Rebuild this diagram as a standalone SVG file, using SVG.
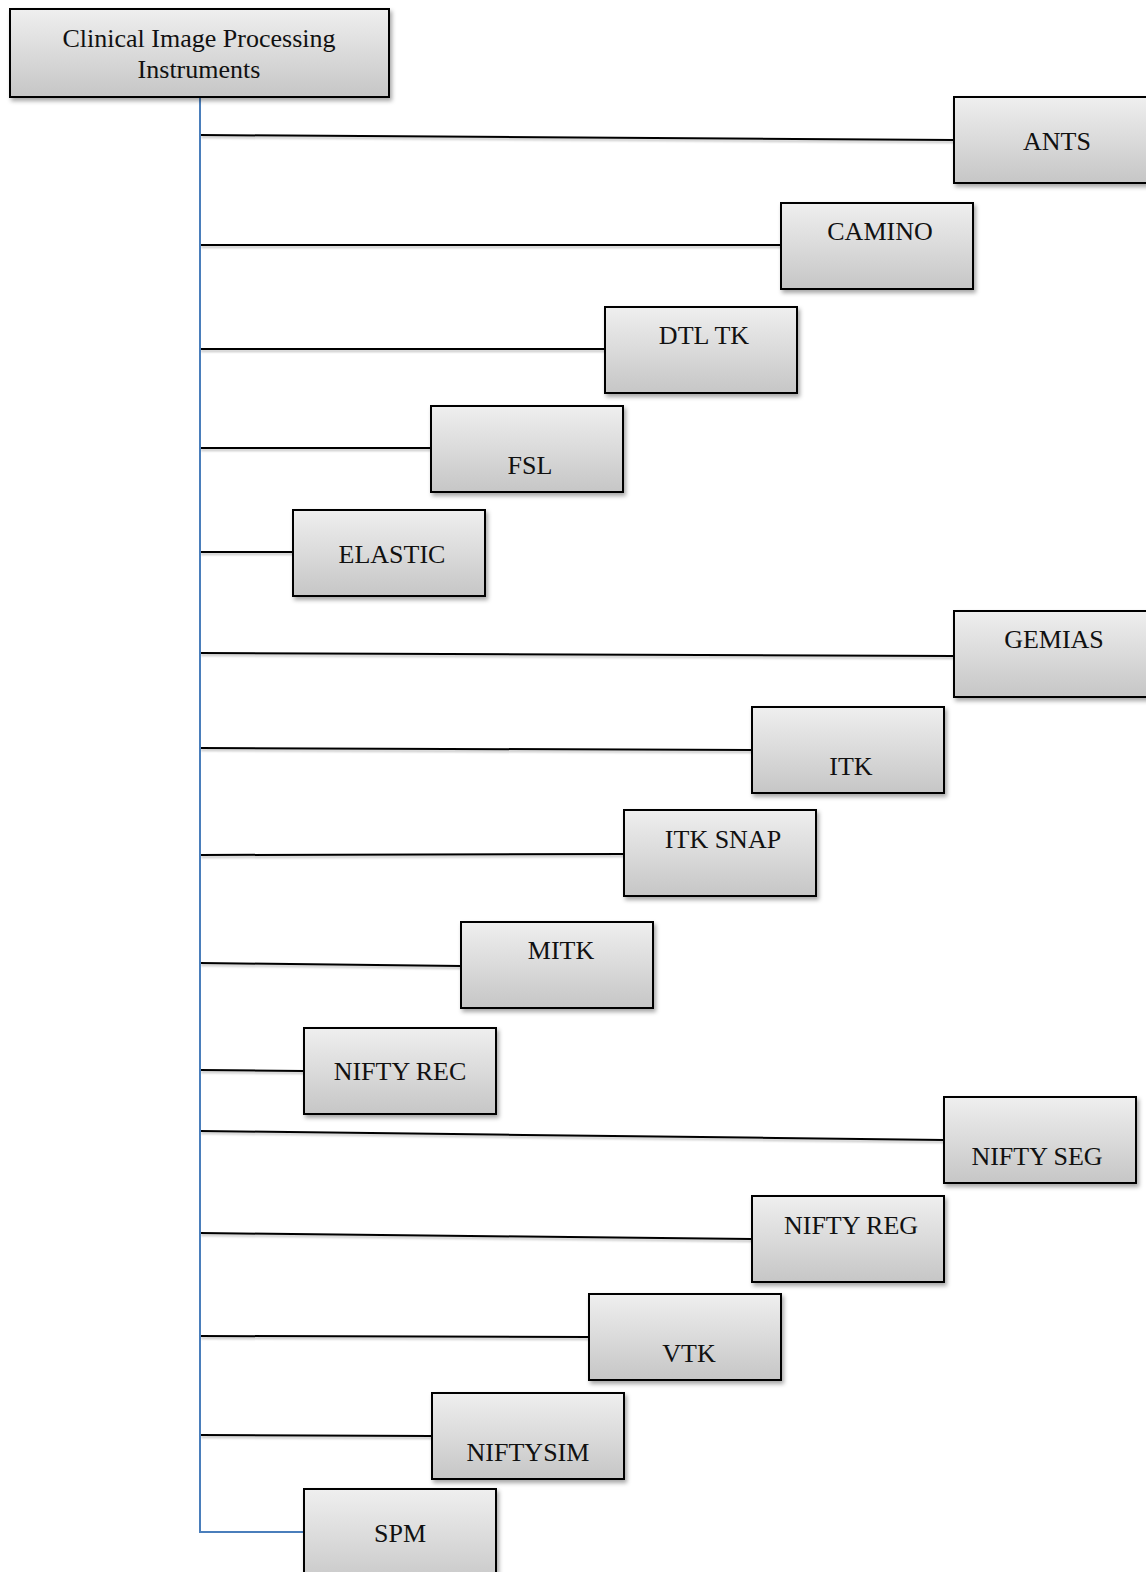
<svg xmlns="http://www.w3.org/2000/svg" width="1146" height="1572" viewBox="0 0 1146 1572">
<defs>
<linearGradient id="g" x1="0" y1="0" x2="0" y2="1">
<stop offset="0" stop-color="#efefef"/>
<stop offset="1" stop-color="#c6c6c6"/>
</linearGradient>
<filter id="sh" x="-10%" y="-10%" width="130%" height="140%">
<feDropShadow dx="2" dy="3" stdDeviation="2" flood-color="#000" flood-opacity="0.35"/>
</filter>
<filter id="lsh" filterUnits="userSpaceOnUse" x="0" y="0" width="1146" height="1572">
<feDropShadow dx="1" dy="2" stdDeviation="1.2" flood-color="#000" flood-opacity="0.25"/>
</filter>
</defs>
<style>
.box{fill:url(#g);stroke:#000;stroke-width:2;filter:url(#sh)}
.t{font-family:"Liberation Serif","Times New Roman",serif;font-size:26px;fill:#111;text-anchor:middle}
.c{stroke:#000;stroke-width:2;fill:none;filter:url(#lsh)}
.b{stroke:#4a7ebb;stroke-width:2;fill:none}
</style>
<rect width="1146" height="1572" fill="#fff"/>
<g id="connectors">
<line class="c" x1="200" y1="135" x2="954" y2="140"/>
<line class="c" x1="200" y1="245" x2="781" y2="245"/>
<line class="c" x1="200" y1="349" x2="605" y2="349"/>
<line class="c" x1="200" y1="448" x2="431" y2="448"/>
<line class="c" x1="200" y1="552" x2="293" y2="552"/>
<line class="c" x1="200" y1="653" x2="954" y2="656"/>
<line class="c" x1="200" y1="748" x2="752" y2="750"/>
<line class="c" x1="200" y1="855" x2="624" y2="854"/>
<line class="c" x1="200" y1="963" x2="461" y2="966"/>
<line class="c" x1="200" y1="1070" x2="304" y2="1071"/>
<line class="c" x1="200" y1="1131" x2="944" y2="1140"/>
<line class="c" x1="200" y1="1233" x2="752" y2="1239"/>
<line class="c" x1="200" y1="1336" x2="589" y2="1337"/>
<line class="c" x1="200" y1="1435" x2="432" y2="1436"/>
<polyline class="b" points="200,97 200,1532 304,1532"/>
</g>
<g id="root">
<rect class="box" x="10" y="9" width="379" height="88"/>
<text class="t" x="199" y="47">Clinical Image Processing</text>
<text class="t" x="199" y="78">Instruments</text>
</g>
<g id="ants"><rect class="box" x="954" y="97" width="200" height="86"/><text class="t" x="1057" y="150">ANTS</text></g>
<g id="camino"><rect class="box" x="781" y="203" width="192" height="86"/><text class="t" x="880" y="240">CAMINO</text></g>
<g id="dtltk"><rect class="box" x="605" y="307" width="192" height="86"/><text class="t" x="704" y="344">DTL TK</text></g>
<g id="fsl"><rect class="box" x="431" y="406" width="192" height="86"/><text class="t" x="530" y="474">FSL</text></g>
<g id="elastic"><rect class="box" x="293" y="510" width="192" height="86"/><text class="t" x="392" y="563">ELASTIC</text></g>
<g id="gemias"><rect class="box" x="954" y="611" width="200" height="86"/><text class="t" x="1054" y="648">GEMIAS</text></g>
<g id="itk"><rect class="box" x="752" y="707" width="192" height="86"/><text class="t" x="851" y="775">ITK</text></g>
<g id="itksnap"><rect class="box" x="624" y="810" width="192" height="86"/><text class="t" x="723" y="848">ITK SNAP</text></g>
<g id="mitk"><rect class="box" x="461" y="922" width="192" height="86"/><text class="t" x="561" y="959">MITK</text></g>
<g id="niftyrec"><rect class="box" x="304" y="1028" width="192" height="86"/><text class="t" x="400" y="1080">NIFTY REC</text></g>
<g id="niftyseg"><rect class="box" x="944" y="1097" width="192" height="86"/><text class="t" x="1037" y="1165">NIFTY SEG</text></g>
<g id="niftyreg"><rect class="box" x="752" y="1196" width="192" height="86"/><text class="t" x="851" y="1234">NIFTY REG</text></g>
<g id="vtk"><rect class="box" x="589" y="1294" width="192" height="86"/><text class="t" x="689" y="1362">VTK</text></g>
<g id="niftysim"><rect class="box" x="432" y="1393" width="192" height="86"/><text class="t" x="528" y="1461">NIFTYSIM</text></g>
<g id="spm"><rect class="box" x="304" y="1489" width="192" height="100"/><text class="t" x="400" y="1542">SPM</text></g>
</svg>
